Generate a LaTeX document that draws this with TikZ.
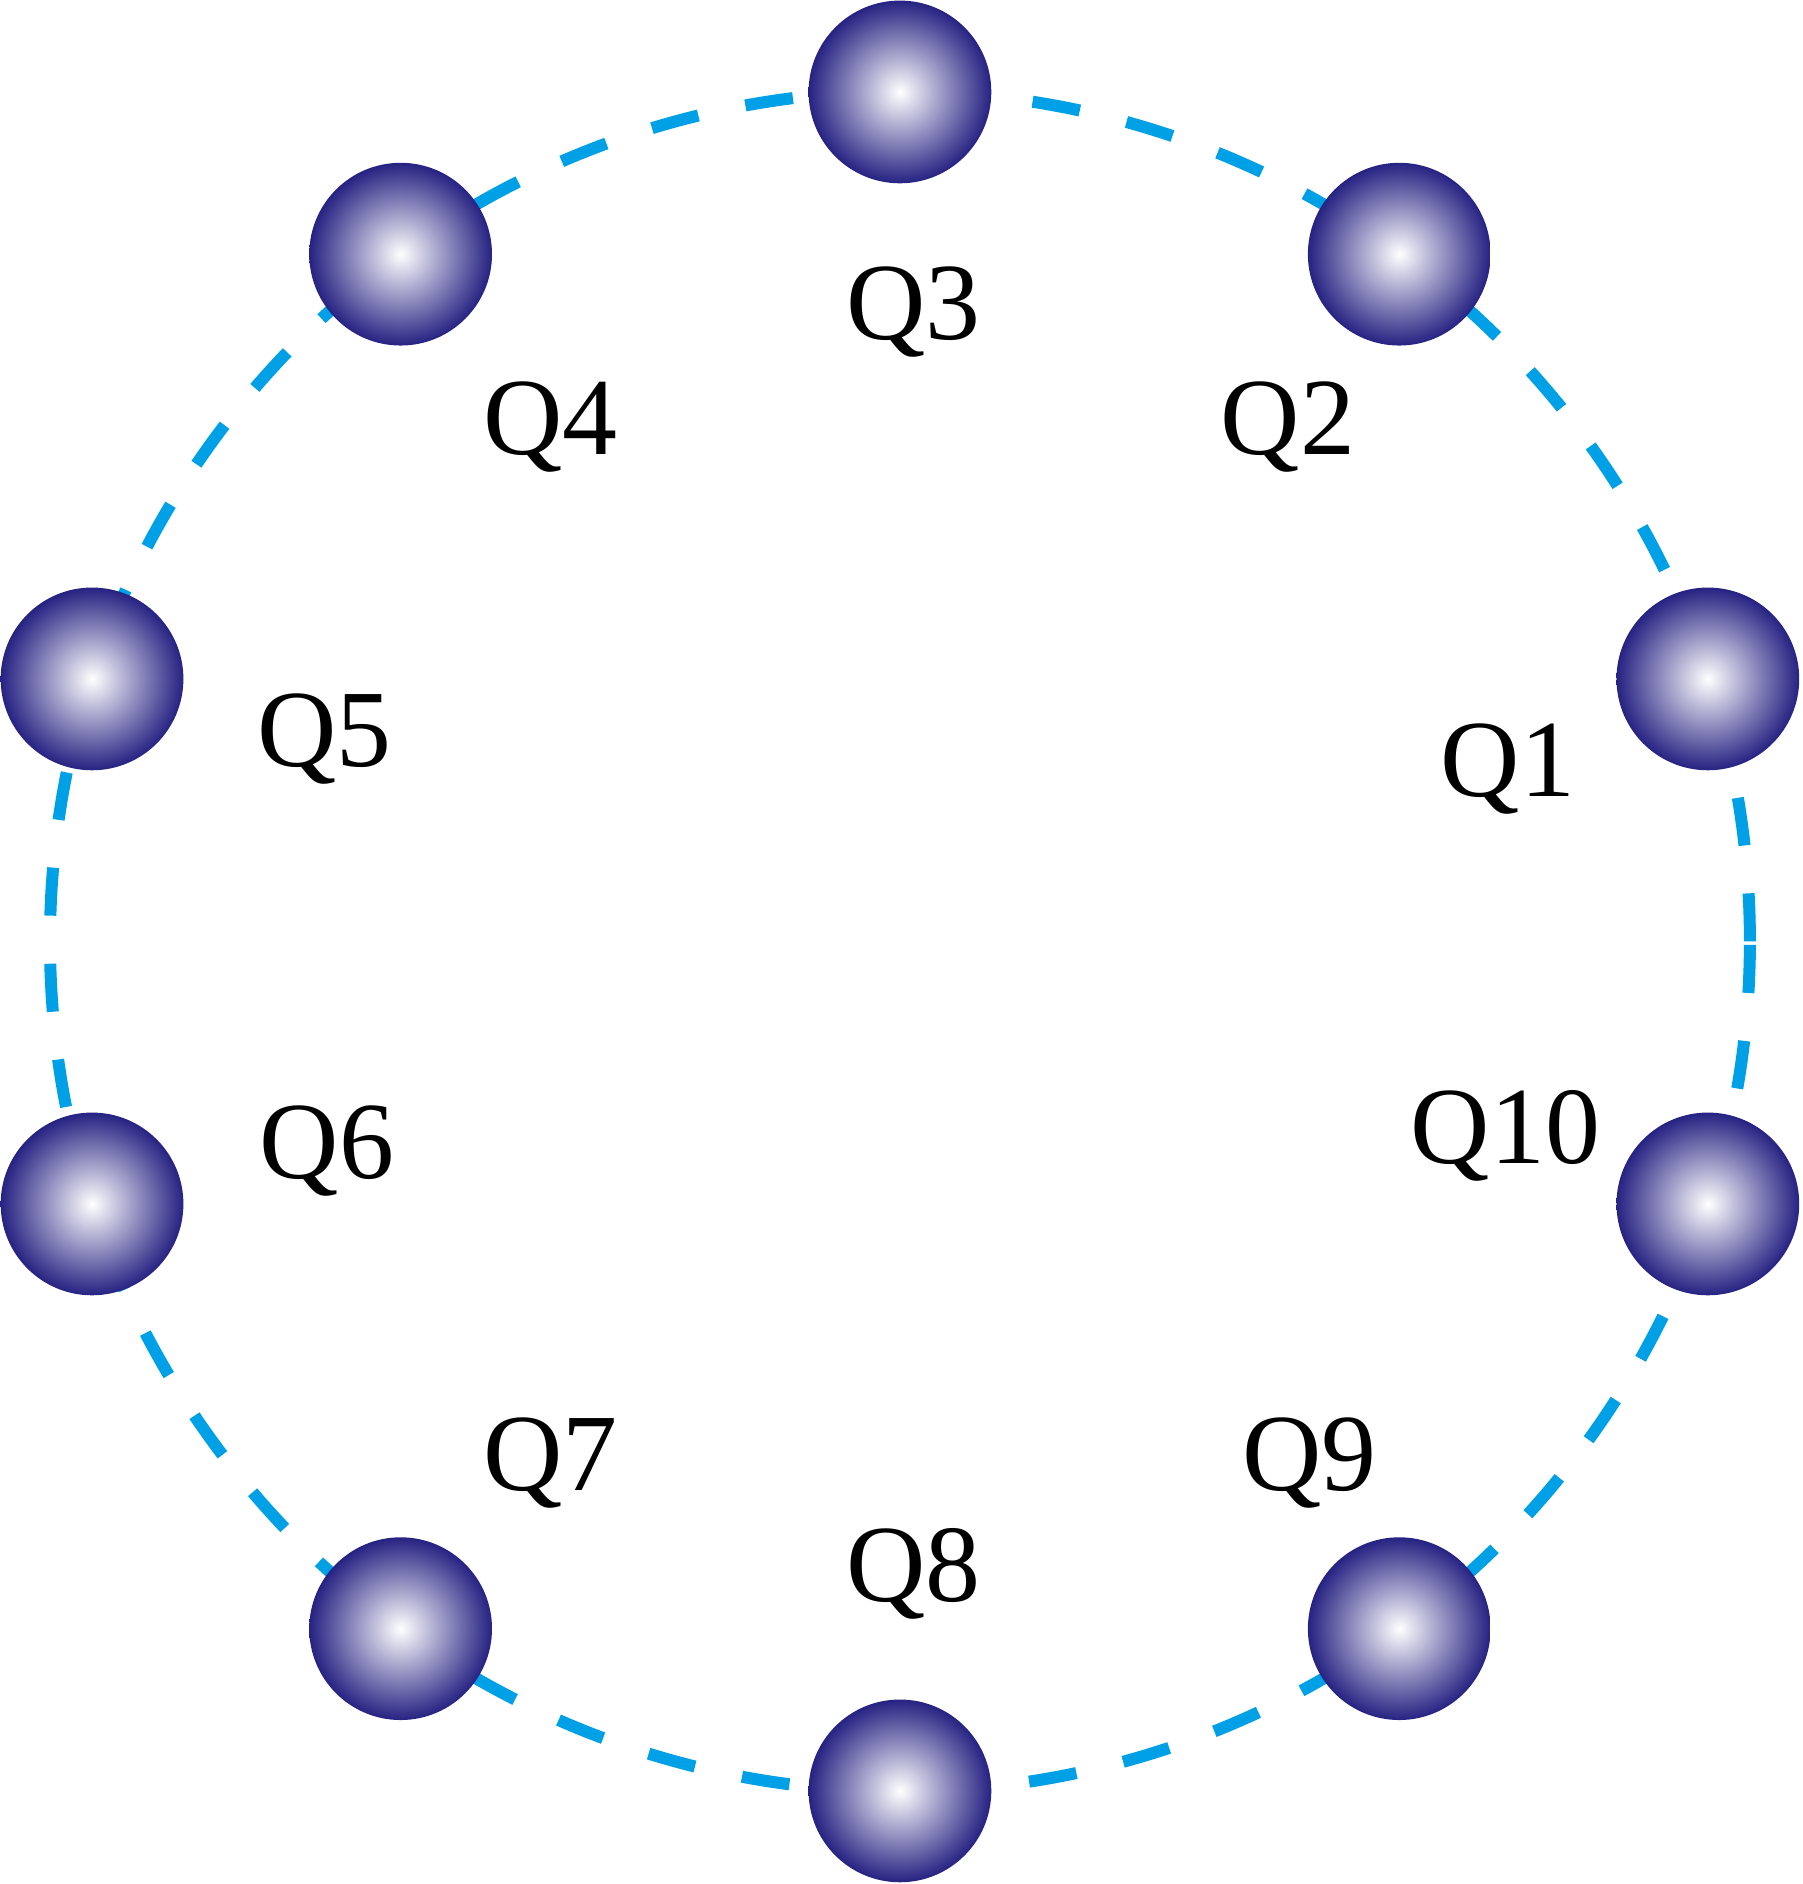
\documentclass[tikz,border=0pt]{standalone}
\usepackage{fontspec}
\setmainfont{Liberation Serif}
\begin{document}
\begin{tikzpicture}[x=0.01cm,y=-0.01cm,
  ballnode/.style={circle,minimum size=1.52cm,inner sep=0pt,inner color=white,outer color=navyc},
  lbl/.style={font=\fontsize{26}{30}\selectfont,inner sep=0pt}]
\definecolor{navyc}{RGB}{38,34,130}
\definecolor{dashc}{RGB}{0,160,230}
\useasboundingbox (0,0) rectangle (1500,1568);
\draw[dashc,line width=0.1cm,dash pattern=on 0.4cm off 0.4cm] (749,783.5) circle (7.07cm);
\foreach \n/\a in {1/18,2/54,3/90,4/126,5/162,6/198,7/234,8/270,9/306,10/342}{
  \shade[inner color=white,outer color=navyc] ({749+707*cos(\a)},{783.5-707*sin(\a)}) circle (0.76cm);
  \node[circle,minimum size=1.52cm,inner sep=0pt] (b\n) at ({749+707*cos(\a)},{783.5-707*sin(\a)}) {};
}
\node[lbl] (q3) at (760,260) {Q3};
\node[lbl] (q4) at (458,355) {Q4};
\node[lbl] (q2) at (1072,355) {Q2};
\node[lbl] (q5) at (270,615) {Q5};
\node[lbl] (q1) at (1255,640) {Q1};
\node[lbl] (q6) at (272,958) {Q6};
\node[lbl] (q10) at (1253,945) {Q10};
\node[lbl] (q7) at (458,1218) {Q7};
\node[lbl] (q9) at (1090,1218) {Q9};
\node[lbl] (q8) at (760,1310) {Q8};
\end{tikzpicture}
\end{document}
